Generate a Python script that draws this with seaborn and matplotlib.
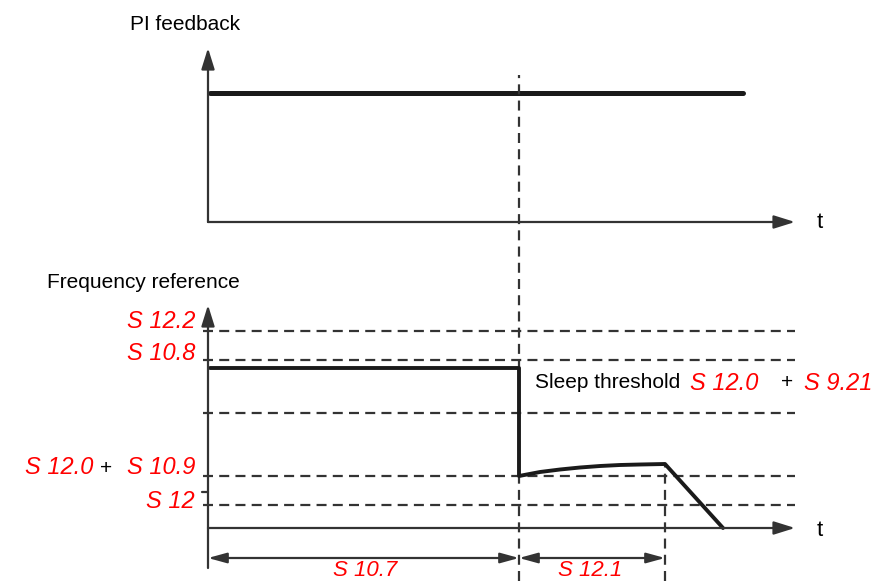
import pandas as pd
import matplotlib.pyplot as plt
import seaborn as sns

# -------------------------
# Schematic data (time and level units)
# -------------------------
# top panel: PI feedback stays constant
pi_time = [0.2, 53.5]
pi_level = [12.9, 12.9]

# bottom panel: frequency reference
freq_time = [0.2, 31.1, 31.1, 33.2, 35.2, 37.2, 39.2, 41.2, 43.2, 45.7, 51.5]
freq_level = [16.0, 16.0, 5.2, 5.6, 5.85, 6.05, 6.2, 6.3, 6.35, 6.4, 0.0]

# dashed reference levels on the frequency axis
ref_levels = [19.7, 16.8, 11.5, 5.2, 2.3]
tick_level = 3.6

t_sleep = 31.1       # sleep detected
t_ramp = 45.7        # end of sleep delay
t_axis_end = 58.7

level_labels = ["S 12.2", "S 10.8", "S 10.9", "S 12"]
level_label_y = [20.6, 17.4, 6.0, 2.7]

INK = "#333333"
RED = "#ff0000"
DASH = (0, (4.5, 2.8))

sns.set_theme(style="white")
plt.rcParams["font.family"] = ["Liberation Sans", "DejaVu Sans"]

fig = plt.figure(figsize=(8.85, 5.81), dpi=100)
ax_top = fig.add_axes([0, 316 / 581, 1, 265 / 581])
ax_bot = fig.add_axes([0, 0, 1, 316 / 581])

ax_top.set_xlim(-20.8, 67.7)
ax_top.set_ylim(-4.3, 22.2)
ax_bot.set_xlim(-20.8, 67.7)
ax_bot.set_ylim(-5.3, 26.3)
for ax in (ax_top, ax_bot):
    ax.axis("off")

arrow = dict(arrowstyle="-|>,head_length=0.8,head_width=0.25", lw=1.6, color=INK,
             mutation_scale=16, shrinkA=0, shrinkB=0)
dim_arrow = dict(arrowstyle="<|-|>,head_length=0.8,head_width=0.22", lw=1.6, color=INK,
                 mutation_scale=14, shrinkA=0, shrinkB=0)

# -------------------------
# Top panel: PI feedback
# -------------------------
ax_top.annotate("", xy=(0, 17.4), xytext=(0, 0), arrowprops=arrow)
ax_top.annotate("", xy=(t_axis_end, 0), xytext=(0, 0), arrowprops=arrow)
pi_df = pd.DataFrame({"t": pi_time, "v": pi_level})
sns.lineplot(data=pi_df, x="t", y="v", ax=ax_top, color="#1a1a1a", lw=3.6)
ax_top.text(-7.8, 19.7, "PI feedback", fontsize=15, va="center", color="black")
ax_top.text(61.2, -0.1, "t", fontsize=16, va="center", ha="center", color="black")
ax_top.set_xlabel("")
ax_top.set_ylabel("")

# -------------------------
# Bottom panel: frequency reference
# -------------------------
for lv in ref_levels:
    ax_bot.plot([-0.5, t_axis_end], [lv, lv], color=INK, lw=1.6, ls=DASH)
ax_bot.plot([-0.6, 0], [tick_level, tick_level], color=INK, lw=1.6)

ax_bot.plot([0, 0], [-4.0, 0], color=INK, lw=1.6)
ax_bot.annotate("", xy=(0, 22.3), xytext=(0, 0), arrowprops=arrow)
ax_bot.annotate("", xy=(t_axis_end, 0), xytext=(0, 0), arrowprops=arrow)

# vertical markers
ax_bot.plot([t_sleep, t_sleep], [-5.3, 45.3], color=INK, lw=1.6, ls=DASH, clip_on=False)
ax_bot.plot([t_ramp, t_ramp], [-5.3, freq_level[-2]], color=INK, lw=1.6, ls=DASH)

freq_df = pd.DataFrame({"t": freq_time, "f": freq_level})
sns.lineplot(data=freq_df, x="t", y="f", ax=ax_bot, sort=False, estimator=None,
             color="#1a1a1a", lw=2.8)
ax_bot.set_xlabel("")
ax_bot.set_ylabel("")

# dimension arrows
ax_bot.annotate("", xy=(t_sleep, -3.0), xytext=(0, -3.0), arrowprops=dim_arrow)
ax_bot.annotate("", xy=(t_ramp, -3.0), xytext=(t_sleep, -3.0), arrowprops=dim_arrow)

red = dict(color=RED, fontsize=17, style="italic", va="center")
dim_red = dict(red, fontsize=16)
ax_bot.text(15.7, -4.2, "S 10.7", ha="center", **dim_red)
ax_bot.text(38.2, -4.2, "S 12.1", ha="center", **dim_red)

for lab, yy in zip(level_labels, level_label_y):
    ax_bot.text(-1.3, yy, lab, ha="right", **red)
ax_bot.text(-10.2, 6.0, "+", ha="center", va="center", fontsize=15, color="black")
ax_bot.text(-11.5, 6.0, "S 12.0", ha="right", **red)

ax_bot.text(32.7, 14.5, "Sleep threshold", fontsize=15, va="center", color="black")
ax_bot.text(48.2, 14.5, "S 12.0", ha="left", **red)
ax_bot.text(57.9, 14.5, "+", ha="center", va="center", fontsize=15, color="black")
ax_bot.text(59.6, 14.5, "S 9.21", ha="left", **red)

ax_bot.text(-16.1, 24.5, "Frequency reference", fontsize=15, va="center", color="black")
ax_bot.text(61.2, -0.2, "t", fontsize=16, va="center", ha="center", color="black")

fig.savefig("out.png", dpi=100)
